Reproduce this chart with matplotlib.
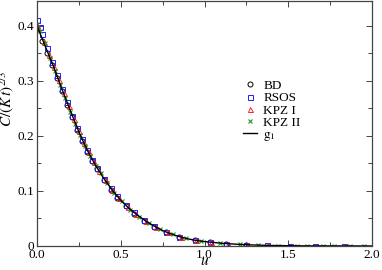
import matplotlib
matplotlib.use("Agg")
import matplotlib.pyplot as plt
from matplotlib.ticker import MultipleLocator, FormatStrFormatter

plt.rcParams['font.family'] = ['Liberation Serif', 'DejaVu Serif']
plt.rcParams['mathtext.fontset'] = 'stix'

# scaling function g1
g1_u = [0.00, 0.05, 0.10, 0.15, 0.20, 0.25, 0.30, 0.35, 0.40, 0.45, 0.50,
        0.55, 0.60, 0.65, 0.70, 0.75, 0.80, 0.85, 0.90, 0.95, 1.00, 1.10,
        1.20, 1.30, 1.40, 1.50, 1.60, 1.80, 2.00]
g1_c = [0.400, 0.362, 0.325, 0.284, 0.245, 0.207, 0.174, 0.146, 0.122, 0.101,
        0.083, 0.068, 0.056, 0.045, 0.036, 0.028, 0.022, 0.017, 0.013, 0.010,
        0.008, 0.005, 0.003, 0.0017, 0.0009, 0.0005, 0.0002, 0.0001, 0.0]

# BD
bd_u = [0.00, 0.03, 0.06, 0.09, 0.12, 0.15, 0.18, 0.21, 0.24, 0.27, 0.30,
        0.33, 0.36, 0.40, 0.44, 0.48, 0.53, 0.58, 0.64, 0.70, 0.77, 0.85,
        0.94, 1.03, 1.13, 1.25]
bd_c = [0.395, 0.373, 0.351, 0.329, 0.305, 0.281, 0.257, 0.234, 0.211, 0.191,
        0.171, 0.154, 0.139, 0.119, 0.102, 0.088, 0.072, 0.059, 0.046, 0.035,
        0.025, 0.016, 0.010, 0.007, 0.004, 0.002]

# RSOS
rsos_u = [0.00, 0.015, 0.03, 0.06, 0.09, 0.12, 0.15, 0.18, 0.21, 0.24, 0.27,
          0.30, 0.33, 0.36, 0.40, 0.44, 0.48, 0.53, 0.58, 0.64, 0.70, 0.77,
          0.85, 0.94, 1.03, 1.13, 1.25, 1.37, 1.51, 1.66, 1.83]
rsos_c = [0.410, 0.398, 0.385, 0.360, 0.335, 0.310, 0.285, 0.261, 0.237, 0.214,
          0.194, 0.174, 0.157, 0.141, 0.122, 0.105, 0.090, 0.074, 0.061, 0.047,
          0.036, 0.026, 0.017, 0.011, 0.007, 0.004, 0.0024, 0.0011, 0.0005,
          0.0002, 0.0001]

# KPZ I
kpz1_u = [0.00, 0.04, 0.07, 0.10, 0.13, 0.16, 0.19, 0.22, 0.25, 0.28, 0.31,
          0.34, 0.37, 0.41, 0.45, 0.49, 0.54, 0.59, 0.65, 0.71, 0.78, 0.86,
          0.95, 1.04, 1.14, 1.26, 1.38, 1.52, 1.67, 1.84]
kpz1_c = [0.402, 0.370, 0.347, 0.326, 0.302, 0.278, 0.254, 0.231, 0.209, 0.188,
          0.170, 0.153, 0.137, 0.119, 0.102, 0.087, 0.071, 0.058, 0.045, 0.034,
          0.025, 0.016, 0.010, 0.007, 0.004, 0.0023, 0.0011, 0.0005, 0.0002,
          0.0001]

# KPZ II
kpz2_u = [0.00, 0.02, 0.045, 0.075, 0.105, 0.135, 0.165, 0.195, 0.225, 0.255,
          0.285, 0.315, 0.35, 0.38, 0.42, 0.46, 0.505, 0.555, 0.61, 0.67, 0.735,
          0.81, 0.89, 0.98, 1.09, 1.21, 1.32, 1.44, 1.55, 1.61, 1.71, 1.77,
          1.87, 1.95]
kpz2_c = [0.404, 0.390, 0.368, 0.341, 0.318, 0.293, 0.268, 0.244, 0.222, 0.201,
          0.182, 0.164, 0.146, 0.132, 0.114, 0.097, 0.081, 0.066, 0.053, 0.041,
          0.031, 0.021, 0.014, 0.009, 0.005, 0.0028, 0.0015, 0.0008, 0.0004,
          0.0003, 0.0002, 0.0001, 0.0001, 0.0]

fig = plt.figure(figsize=(3.82, 2.70), dpi=100)
ax = fig.add_axes([0.097, 0.089, 0.877, 0.907])

ms = 3.6
ax.plot(bd_u, bd_c, 'o', mfc='none', mec='black', ms=ms, mew=0.7, label='BD')
ax.plot(rsos_u, rsos_c, 's', mfc='none', mec='#1f1fff', ms=ms, mew=0.7, label='RSOS')
ax.plot(kpz1_u, kpz1_c, '^', mfc='none', mec='#ff2020', ms=ms, mew=0.7, label='KPZ I')
ax.plot(kpz2_u, kpz2_c, 'x', color='#1a9a1a', ms=2.6, mew=0.8, label='KPZ II')
ax.plot(g1_u, g1_c, '-', color='black', lw=1.0, label=r'$\mathrm{g}_1$')

ax.set_xlim(0, 2.0)
ax.set_ylim(0, 0.445)
ax.xaxis.set_major_locator(MultipleLocator(0.5))
ax.xaxis.set_minor_locator(MultipleLocator(0.25))
ax.yaxis.set_major_locator(MultipleLocator(0.1))
ax.yaxis.set_minor_locator(MultipleLocator(0.05))
ax.xaxis.set_major_formatter(FormatStrFormatter('%.1f'))
ax.set_yticks([0, 0.1, 0.2, 0.3, 0.4])
ax.set_yticklabels(['0', '0.1', '0.2', '0.3', '0.4'])
ax.tick_params(which='both', direction='in', top=True, right=True,
               labelsize=9.5, width=0.7, color='#444444', pad=2)
ax.tick_params(which='major', length=4.3)
ax.tick_params(which='minor', length=2.8)
for s in ax.spines.values():
    s.set_color('#444444')
    s.set_linewidth(0.9)

ax.set_xlabel(r'$u$', fontsize=11, labelpad=-4)
ax.set_ylabel(r'$C/(K\,t)^{2/3}$', fontsize=11)
ax.yaxis.set_label_coords(-0.064, 0.60)

ax.legend(loc='upper left', bbox_to_anchor=(0.60, 0.70), frameon=False,
          fontsize=9.5, handlelength=1.0, handletextpad=0.5, labelspacing=0.0,
          borderaxespad=0)

fig.savefig('out.png', dpi=100)
